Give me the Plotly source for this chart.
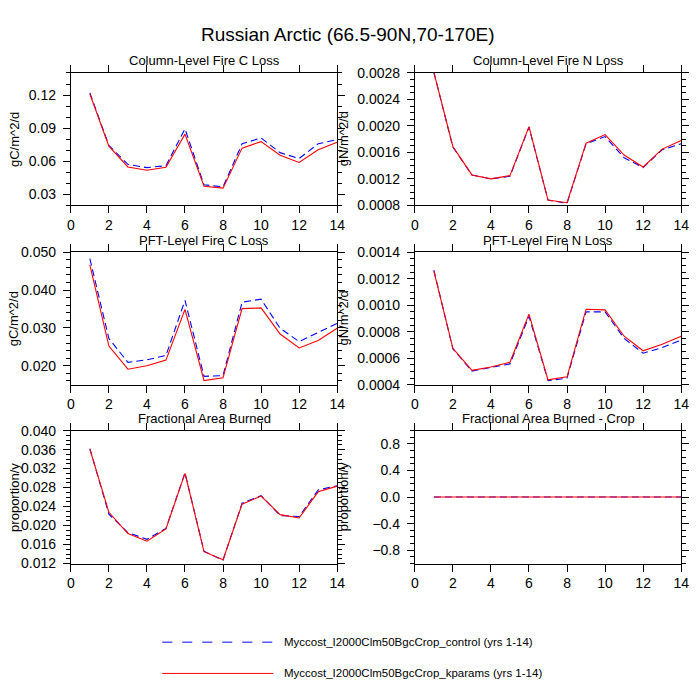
import plotly.graph_objects as go

# --- Data ---
years = list(range(1, 15))

col_c_control = [0.122, 0.0743, 0.0572, 0.0542, 0.0560, 0.0893, 0.0386, 0.0368, 0.0758, 0.0811, 0.0678, 0.0625, 0.0758, 0.0796]
col_c_kparams = [0.121, 0.0737, 0.0548, 0.0519, 0.0545, 0.0846, 0.0374, 0.0356, 0.0719, 0.0778, 0.0654, 0.0589, 0.0704, 0.0772]

col_n_control = [0.00281, 0.00168, 0.00126, 0.00120, 0.00124, 0.00198, 0.00088, 0.00083, 0.00173, 0.00184, 0.00152, 0.00137, 0.00164, 0.00173]
col_n_kparams = [0.00281, 0.00169, 0.00126, 0.00120, 0.00125, 0.00199, 0.00088, 0.00084, 0.00174, 0.00187, 0.00156, 0.00138, 0.00165, 0.00178]

pft_c_control = [0.0483, 0.0272, 0.0209, 0.0216, 0.0227, 0.0373, 0.0172, 0.0174, 0.0368, 0.0376, 0.0299, 0.0264, 0.0288, 0.0312]
pft_c_kparams = [0.0467, 0.0252, 0.0191, 0.0200, 0.0215, 0.0349, 0.0161, 0.0168, 0.0351, 0.0353, 0.0284, 0.0247, 0.0267, 0.0299]

pft_n_control = [0.001265, 0.000670, 0.000503, 0.000528, 0.000557, 0.000916, 0.000430, 0.000450, 0.000950, 0.000950, 0.000749, 0.000638, 0.000680, 0.000737]
pft_n_kparams = [0.001257, 0.000675, 0.000508, 0.000533, 0.000570, 0.000933, 0.000437, 0.000459, 0.000970, 0.000965, 0.000766, 0.000656, 0.000705, 0.000766]

farea_control = [0.0362, 0.0224, 0.0185, 0.0171, 0.0194, 0.0311, 0.0146, 0.0127, 0.0247, 0.0263, 0.0221, 0.0219, 0.0275, 0.0284]
farea_kparams = [0.0361, 0.0228, 0.0183, 0.0167, 0.0193, 0.0310, 0.0145, 0.0128, 0.0245, 0.0262, 0.0223, 0.0216, 0.0271, 0.0283]

farea_crop_control = [0.0] * 14
farea_crop_kparams = [0.0] * 14

panel_titles = ["Column-Level Fire C Loss", "Column-Level Fire N Loss",
                "PFT-Level Fire C Loss", "PFT-Level Fire N Loss",
                "Fractional Area Burned", "Fractional Area Burned - Crop"]
units = ["gC/m^2/d", "gN/m^2/d", "gC/m^2/d", "gN/m^2/d", "proportion/y", "proportion/y"]
legend_names = ["Myccost_I2000Clm50BgcCrop_control (yrs 1-14)",
                "Myccost_I2000Clm50BgcCrop_kparams (yrs 1-14)"]

series = [(col_c_control, col_c_kparams), (col_n_control, col_n_kparams),
          (pft_c_control, pft_c_kparams), (pft_n_control, pft_n_kparams),
          (farea_control, farea_kparams), (farea_crop_control, farea_crop_kparams)]

# y-axis settings per panel: range, tick0, dtick, minor dtick, format
yset = [
    ([0.02, 0.14], 0.03, 0.03, 0.01, ".2f"),
    ([0.0008, 0.0028], 0.0008, 0.0004, 0.0001, ".4f"),
    ([0.015, 0.050], 0.02, 0.01, 0.002, ".3f"),
    ([0.0004, 0.0014], 0.0004, 0.0002, 0.00005, ".4f"),
    ([0.012, 0.040], 0.012, 0.004, 0.001, ".3f"),
    ([-1.0, 1.0], 0.0, 0.4, 0.1, ".1f"),
]

W = H = 700
FONT = "Liberation Sans, Arial, Helvetica, sans-serif"

# panel frames in pixels (left, right, top, bottom)
cols = [(68, 339), (418, 689)]
rows = [(66.5, 202), (250, 385.5), (432.5, 568.5)]

fig = go.Figure()
annotations = []
layout = {}

for i, (ctl, kp) in enumerate(series):
    r, c = divmod(i, 2)
    n = "" if i == 0 else str(i + 1)
    xl, xr = cols[c]
    yt, yb = rows[r]
    fig.add_trace(go.Scatter(x=years, y=ctl, mode="lines", xaxis="x" + n, yaxis="y" + n,
                             line=dict(color="#0000ff", width=1.1, dash="7px,4px"),
                             showlegend=False, name=legend_names[0]))
    fig.add_trace(go.Scatter(x=years, y=kp, mode="lines", xaxis="x" + n, yaxis="y" + n,
                             line=dict(color="#ff0000", width=1.1),
                             showlegend=False, name=legend_names[1]))
    rng, t0, dt, mdt, fmt = yset[i]
    common = dict(showline=True, linecolor="black", linewidth=1, mirror="ticks",
                  ticks="outside", ticklen=7, tickwidth=1, tickcolor="black",
                  showgrid=False, zeroline=False, fixedrange=True,
                  tickfont=dict(size=14, color="black", family=FONT))
    layout["xaxis" + n] = dict(domain=[xl / W, xr / W], anchor="y" + n, range=[0, 14],
                               tick0=0, dtick=2, **common)
    layout["yaxis" + n] = dict(domain=[1 - yb / H, 1 - yt / H], anchor="x" + n, range=rng,
                               tick0=t0, dtick=dt, tickformat=fmt, ticklabelstandoff=4,
                               minor=dict(ticks="outside", ticklen=4, tick0=0, dtick=mdt,
                                          tickcolor="black", showgrid=False),
                               **common)
    # panel title
    annotations.append(dict(text=panel_titles[i], x=(xl + xr) / 2 / W, y=1 - (yt - 12.5) / H,
                            xref="paper", yref="paper", showarrow=False,
                            xanchor="center", yanchor="middle",
                            font=dict(size=13, color="black", family=FONT)))
    # y axis title
    annotations.append(dict(text=units[i], x=(10 if c == 0 else 345) / W, y=1 - (yt + yb) / 2 / H,
                            xref="paper", yref="paper", showarrow=False, textangle=-90,
                            xanchor="center", yanchor="middle",
                            font=dict(size=13, color="black", family=FONT)))

annotations.append(dict(text="Russian Arctic (66.5-90N,70-170E)", x=0.5, y=1 - 27 / H,
                        xref="paper", yref="paper", showarrow=False,
                        xanchor="center", yanchor="middle",
                        font=dict(size=19, color="black", family=FONT)))

# legend (drawn manually, like the NCL legend)
shapes = []
leg_y = [649, 681]
leg_style = [dict(color="#0000ff", width=1, dash="10px,10px"), dict(color="#ff0000", width=1)]
for k in range(2):
    shapes.append(dict(type="line", xref="paper", yref="paper",
                       x0=161 / W, x1=274 / W, y0=1 - leg_y[k] / H, y1=1 - leg_y[k] / H,
                       line=leg_style[k]))
    annotations.append(dict(text=legend_names[k], x=283 / W, y=1 - leg_y[k] / H,
                            xref="paper", yref="paper", showarrow=False,
                            xanchor="left", yanchor="middle",
                            font=dict(size=11.5, color="black", family=FONT)))

fig.update_layout(width=W, height=H, margin=dict(l=0, r=0, t=0, b=0),
                  paper_bgcolor="white", plot_bgcolor="white",
                  font=dict(family=FONT, color="black"),
                  annotations=annotations, shapes=shapes, **layout)

# drop the browser's default 8px body margin so the 700px figure fills the window
fig.write_html("out.html", config={"displayModeBar": False},
               post_script="document.body.style.margin='0';")
